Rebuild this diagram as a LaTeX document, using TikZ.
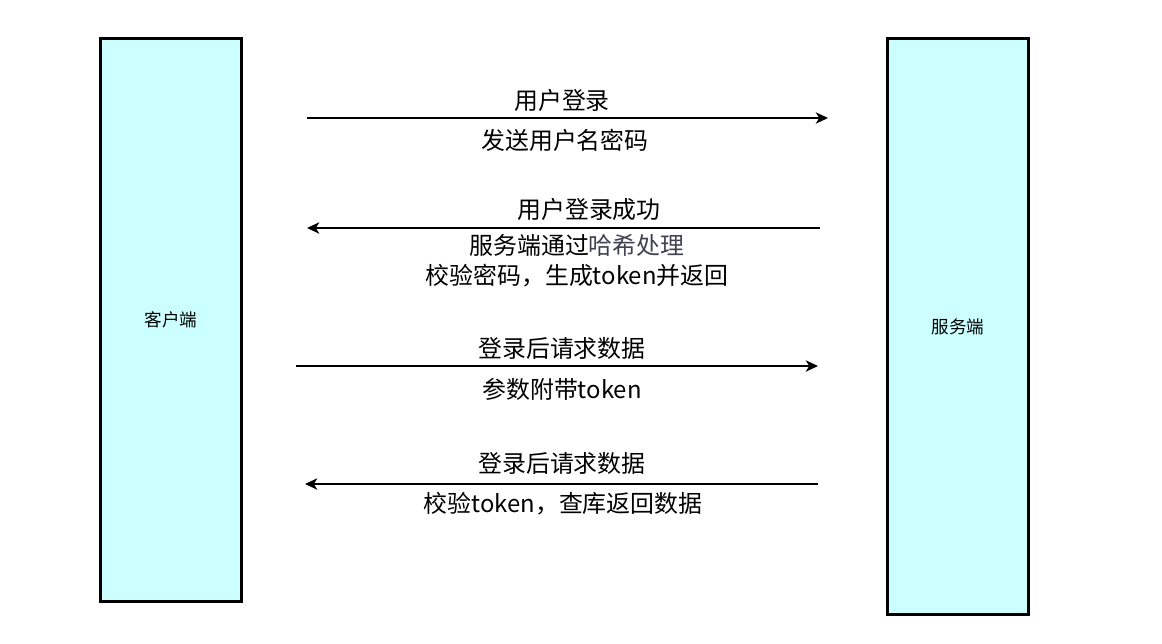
\documentclass[tikz,border=0pt]{standalone}
\usepackage{fontspec}
\setmainfont{Noto Sans CJK SC}
\usepackage{tikz}
\usetikzlibrary{arrows.meta,positioning}
\definecolor{partyfill}{HTML}{CCFFFF}
\definecolor{hashgray}{HTML}{404050}
\tikzset{
  party/.style={draw=black, line width=1.6pt, fill=partyfill, minimum width=2.82cm,
                font=\fontsize{10}{12}\selectfont, inner sep=0pt},
  msg/.style={-{Stealth[length=7pt,width=6.5pt,inset=2pt]}, line width=0.85pt},
  lbl/.style={font=\fontsize{13.6}{17}\selectfont, inner sep=0pt, align=center}
}

\begin{document}
\begin{tikzpicture}[x=0.02cm,y=-0.02cm]
  \useasboundingbox (0,0) rectangle (1162,643);
  % the two parties
  \node[party, minimum height=11.26cm] (client) at (171,320) {客户端};
  \node[party, minimum height=11.52cm] (server) at (958,326.5) {服务端};

  % message ends
  \coordinate (login-s) at (307,118);   \coordinate (login-e) at (828,118);
  \coordinate (ok-s) at (820,228);      \coordinate (ok-e) at (307,228);
  \coordinate (req-s) at (296,366);     \coordinate (req-e) at (818,366);
  \coordinate (resp-s) at (818,484);    \coordinate (resp-e) at (305,484);

  \draw[msg] (login-s) -- (login-e);
  \draw[msg] (ok-s) -- (ok-e);
  \draw[msg] (req-s) -- (req-e);
  \draw[msg] (resp-s) -- (resp-e);

  % labels
  \node[lbl] (login-top) at (562,100) {用户登录};
  \node[lbl] (login-bot) at (565,140) {发送用户名密码};
  \node[lbl] (ok-top) at (589,209) {用户登录成功};
  \node[lbl] (ok-bot) at (577,261) {服务端通过\textcolor{hashgray}{哈希处理}\\校验密码，生成token并返回};
  \node[lbl] (req-top) at (562,348) {登录后请求数据};
  \node[lbl] (req-bot) at (562,389) {参数附带token};
  \node[lbl] (resp-top) at (562,463) {登录后请求数据};
  \node[lbl] (resp-bot) at (563,504) {校验token，查库返回数据};
\end{tikzpicture}
\end{document}
